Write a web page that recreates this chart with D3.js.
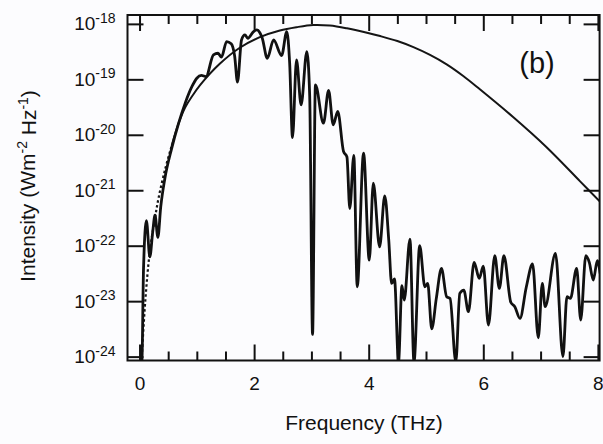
<!DOCTYPE html>
<html>
<head>
<meta charset="utf-8">
<script src="https://cdn.jsdelivr.net/npm/d3@7"></script>
<style>
  body { margin: 0; background: #fcfcfe; }
  svg { display: block; font-family: "Liberation Sans", Arial, sans-serif; }
</style>
</head>
<body>
<div id="chart"></div>
<script>
// measured spectrum: frequency (THz) and log10 of intensity (W m^-2 Hz^-1)
const measFreq = [-0.21, 0.04, 0.07, 0.12, 0.18, 0.23, 0.27, 0.32, 0.37, 0.44, 0.56, 0.68, 0.80, 0.92,
  1.00, 1.08, 1.16, 1.29, 1.37, 1.43, 1.52, 1.60, 1.66, 1.71, 1.78, 1.84, 1.89, 1.99, 2.05, 2.10,
  2.14, 2.23, 2.34, 2.48, 2.57, 2.62, 2.67, 2.74, 2.82, 2.92, 2.97, 3.02, 3.07, 3.21, 3.30, 3.38,
  3.46, 3.56, 3.62, 3.67, 3.74, 3.80, 3.91, 4.01, 4.08, 4.19, 4.28, 4.35, 4.40, 4.45, 4.52, 4.58,
  4.62, 4.72, 4.79, 4.89, 4.98, 5.03, 5.10, 5.18, 5.27, 5.36, 5.42, 5.52, 5.59, 5.66, 5.74, 5.84,
  5.93, 6.00, 6.09, 6.20, 6.28, 6.36, 6.48, 6.55, 6.64, 6.75, 6.86, 6.96, 7.03, 7.08, 7.26, 7.39,
  7.46, 7.52, 7.63, 7.70, 7.79, 7.85, 7.92, 7.99, 8.04];
const measExp = [-24.1, -24.1, -22.4, -21.55, -22.2, -21.75, -21.45, -21.85, -21.3, -20.8, -20.25, -19.8, -19.42, -19.12,
  -18.98, -18.93, -18.95, -18.56, -18.53, -18.6, -18.32, -18.36, -18.58, -19.05, -18.29, -18.2, -18.26, -18.14, -18.11, -18.16,
  -18.25, -18.62, -18.29, -18.57, -18.14, -18.7, -20.05, -18.65, -19.46, -18.5, -19.3, -23.6, -19.1, -19.79, -19.2, -19.82,
  -19.58, -20.3, -20.4, -21.33, -20.37, -22.74, -20.33, -22.26, -20.87, -22.02, -21.1, -21.9, -22.68, -22.6, -24.1, -22.72,
  -22.98, -21.88, -24.1, -22.0, -22.74, -22.68, -23.5, -22.95, -22.41, -22.92, -22.95, -24.1, -22.86, -22.8, -23.19, -22.3,
  -22.59, -22.37, -23.43, -22.18, -22.77, -22.18, -23.02, -23.1, -23.31, -22.75, -22.33, -23.66, -22.68, -23.1, -22.14, -24.0,
  -22.92, -22.95, -22.41, -23.34, -22.18, -22.3, -22.62, -22.27, -22.5];

// calculated (smooth) spectrum
const calcFreq = [0.04, 0.10, 0.18, 0.27, 0.33, 0.44, 0.56, 0.68, 0.80, 0.92, 1.06, 1.40, 1.75, 2.10, 2.45,
  2.74, 3.03, 3.32, 3.62, 3.97, 4.20, 4.50, 4.78, 5.07, 5.36, 5.65, 5.94, 6.52, 7.10, 7.69, 8.04];
const calcExp = [-24.0, -23.0, -22.1, -21.5, -21.15, -20.65, -20.2, -19.8, -19.5, -19.3, -19.1, -18.72, -18.43, -18.24, -18.12,
  -18.06, -18.02, -18.03, -18.08, -18.16, -18.22, -18.31, -18.42, -18.56, -18.73, -18.94, -19.18, -19.68, -20.22, -20.84, -21.21];
const dottedUpTo = 0.56; // the calculated curve is drawn dotted below this frequency

const xMajorTicks = [0, 2, 4, 6, 8];
const xMinorTicks = [0.5, 1, 1.5, 2.5, 3, 3.5, 4.5, 5, 5.5, 6.5, 7, 7.5];
const yTickExps = [-24, -23, -22, -21, -20, -19, -18];

const width = 603;
const height = 444;
const plot = { left: 127.5, right: 599.6, top: 15, bottom: 360.5 };

const svg = d3.select('#chart').append('svg')
  .attr('width', width)
  .attr('height', height);

const x = d3.scaleLinear().domain([-0.21, 8.03]).range([plot.left, plot.right]);
const y = d3.scaleLog().domain([10 ** -24.07, 10 ** -17.84]).range([plot.bottom, plot.top]);

svg.append('defs').append('clipPath').attr('id', 'clip')
  .append('rect')
  .attr('x', plot.left).attr('y', plot.top)
  .attr('width', plot.right - plot.left).attr('height', plot.bottom - plot.top);

const meas = measFreq.map((f, i) => ({ f, v: 10 ** measExp[i] }));
const calc = calcFreq.map((f, i) => ({ f, v: 10 ** calcExp[i] }));

const measLine = d3.line()
  .x((d) => x(d.f))
  .y((d) => y(d.v))
  .curve(d3.curveMonotoneX);
const calcLine = d3.line()
  .x((d) => x(d.f))
  .y((d) => y(d.v))
  .curve(d3.curveCatmullRom.alpha(0.5));

const g = svg.append('g').attr('clip-path', 'url(#clip)');

// calculated curve: dotted part then solid part
g.append('path')
  .datum(calc.filter((d) => d.f <= dottedUpTo))
  .attr('fill', 'none')
  .attr('stroke', '#151515')
  .attr('stroke-width', 2.2)
  .attr('stroke-dasharray', '2.5,2.5')
  .attr('d', calcLine);
g.append('path')
  .datum(calc.filter((d) => d.f >= dottedUpTo))
  .attr('fill', 'none')
  .attr('stroke', '#151515')
  .attr('stroke-width', 2)
  .attr('d', calcLine);

// measured curve
g.append('path')
  .datum(meas)
  .attr('fill', 'none')
  .attr('stroke', '#111')
  .attr('stroke-width', 2.8)
  .attr('stroke-linejoin', 'round')
  .attr('d', measLine);

// frame
svg.append('rect')
  .attr('x', plot.left).attr('y', plot.top)
  .attr('width', plot.right - plot.left).attr('height', plot.bottom - plot.top)
  .attr('fill', 'none')
  .attr('stroke', '#111')
  .attr('stroke-width', 2);

function styleAxis(sel) {
  sel.select('.domain').remove();
  sel.selectAll('.tick line').attr('stroke', '#111').attr('stroke-width', 2);
}

// bottom axis, major with labels and minor without
svg.append('g')
  .attr('transform', `translate(0,${plot.bottom})`)
  .call(d3.axisBottom(x).tickValues(xMajorTicks).tickSize(-16).tickPadding(16).tickFormat(d3.format('d')))
  .call(styleAxis)
  .call((s) => s.selectAll('.tick text')
    .attr('fill', '#111').attr('font-size', 19).attr('font-family', '"Liberation Sans", Arial, sans-serif'));
svg.append('g')
  .attr('transform', `translate(0,${plot.bottom})`)
  .call(d3.axisBottom(x).tickValues(xMinorTicks).tickSize(-9).tickFormat(''))
  .call(styleAxis);

// top axis
svg.append('g')
  .attr('transform', `translate(0,${plot.top})`)
  .call(d3.axisTop(x).tickValues(xMajorTicks).tickSize(-16).tickFormat(''))
  .call(styleAxis);
svg.append('g')
  .attr('transform', `translate(0,${plot.top})`)
  .call(d3.axisTop(x).tickValues(xMinorTicks).tickSize(-9).tickFormat(''))
  .call(styleAxis);

// left axis with power-of-ten labels
const yTicks = yTickExps.map((e) => 10 ** e);
const left = svg.append('g')
  .attr('transform', `translate(${plot.left},0)`)
  .call(d3.axisLeft(y).tickValues(yTicks).tickSize(-16).tickPadding(12).tickFormat(''))
  .call(styleAxis);
left.selectAll('.tick text')
  .attr('fill', '#111')
  .attr('font-size', 19)
  .attr('font-family', '"Liberation Sans", Arial, sans-serif')
  .each(function (d, i) {
    const t = d3.select(this);
    t.append('tspan').text('10');
    t.append('tspan').attr('font-size', 14).attr('dy', '-0.55em').text(yTickExps[i]);
  });

// right axis
svg.append('g')
  .attr('transform', `translate(${plot.right},0)`)
  .call(d3.axisRight(y).tickValues(yTicks).tickSize(-16).tickFormat(''))
  .call(styleAxis);

// axis titles
svg.append('text')
  .attr('x', 364)
  .attr('y', 430)
  .attr('text-anchor', 'middle')
  .attr('font-size', 21)
  .attr('fill', '#111')
  .text('Frequency (THz)');

const yTitle = svg.append('text')
  .attr('transform', 'translate(35,186) rotate(-90)')
  .attr('text-anchor', 'middle')
  .attr('font-size', 21)
  .attr('fill', '#111');
yTitle.append('tspan').text('Intensity (Wm');
yTitle.append('tspan').attr('font-size', 14).attr('dy', '-0.55em').text('-2');
yTitle.append('tspan').attr('dy', '0.4em').text(' Hz');
yTitle.append('tspan').attr('font-size', 14).attr('dy', '-0.55em').text('-1');
yTitle.append('tspan').attr('dy', '0.4em').text(')');

// panel label
svg.append('text')
  .attr('x', 537)
  .attr('y', 73)
  .attr('text-anchor', 'middle')
  .attr('font-size', 29)
  .attr('fill', '#111')
  .text('(b)');
</script>
</body>
</html>
